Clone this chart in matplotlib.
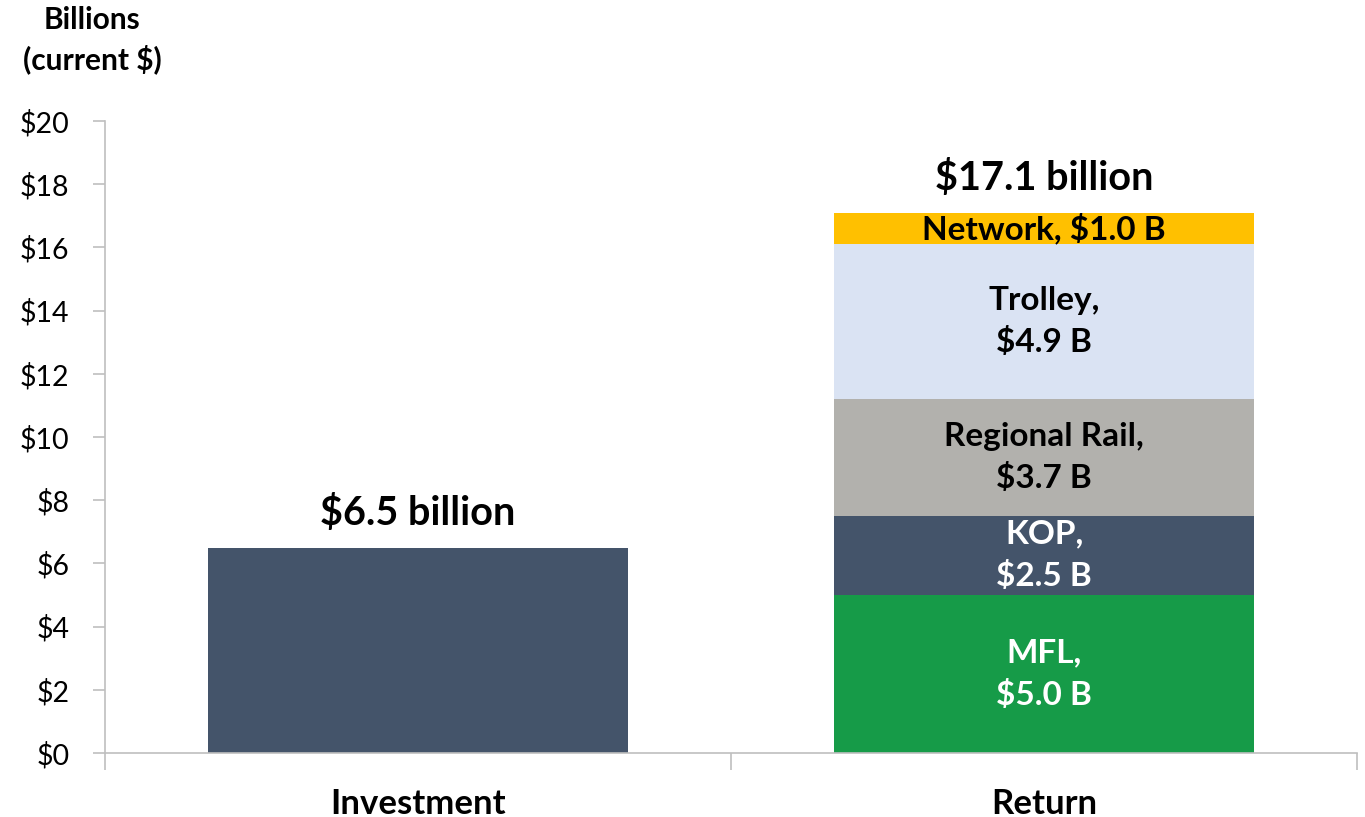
import matplotlib
matplotlib.use("Agg")
import matplotlib.pyplot as plt
import numpy as np

categories = ["Investment", "Return"]
investment_value = 6.5
segment_names = ["MFL", "KOP", "Regional Rail", "Trolley", "Network"]
segment_values = [5.0, 2.5, 3.7, 4.9, 1.0]
segment_labels = ["MFL,\n$5.0 B", "KOP,\n$2.5 B", "Regional Rail,\n$3.7 B", "Trolley,\n$4.9 B", "Network, $1.0 B"]
segment_colors = ["#169B48", "#44546A", "#B2B1AD", "#DAE3F3", "#FFC000"]
segment_text_colors = ["white", "white", "black", "black", "black"]
total_labels = ["$6.5 billion", "$17.1 billion"]
yticks = [0, 2, 4, 6, 8, 10, 12, 14, 16, 18, 20]
ytick_labels = ["$" + str(v) for v in yticks]

plt.rcParams['font.family'] = ['Lato', 'DejaVu Sans']

fig = plt.figure(figsize=(13.65, 8.17), dpi=100)
ax = fig.add_axes([105/1365, 1-753/817, (1357-105)/1365, (753-121)/817])

x = np.arange(len(categories))
width = 0.67

ax.bar(x[0], investment_value, width=width, color="#44546A", zorder=2)
bottom = 0.0
for val, col, lab, tc in zip(segment_values, segment_colors, segment_labels, segment_text_colors):
    ax.bar(x[1], val, width=width, bottom=bottom, color=col, zorder=2)
    ax.text(x[1], bottom + val/2, lab, ha="center", va="center", color=tc,
            fontsize=24, fontweight="bold", linespacing=1.5, zorder=3)
    bottom += val
total_return = bottom

ax.text(x[0], investment_value + 1.1, total_labels[0], ha="center", va="center",
        fontsize=28.5, fontweight="bold")
ax.text(x[1], total_return + 1.1, total_labels[1], ha="center", va="center",
        fontsize=28.5, fontweight="bold")

ax.set_xlim(-0.5, 1.5)
ax.set_ylim(0, 20)
ax.set_yticks(yticks)
ax.set_yticklabels(ytick_labels, fontsize=20.5)
ax.tick_params(axis="y", direction="out", length=8.6, color="#BFBFBF", width=1.2, pad=17)

ax.set_xticks(x)
ax.set_xticklabels(categories, fontsize=25, fontweight="bold")
ax.tick_params(axis="x", which="major", length=0, pad=25)
ax.set_xticks([-0.5, 0.5, 1.5], minor=True)
ax.tick_params(axis="x", which="minor", direction="out", length=12, color="#BFBFBF", width=1.2)

for s in ["top", "right"]:
    ax.spines[s].set_visible(False)
for s in ["left", "bottom"]:
    ax.spines[s].set_color("#BFBFBF")
    ax.spines[s].set_linewidth(1.2)

fig.text(92/1365, 1-40/817, "Billions\n(current $)", ha="center", va="center",
         fontsize=21.5, fontweight="bold", linespacing=1.4)

fig.savefig("out.png", dpi=100)
